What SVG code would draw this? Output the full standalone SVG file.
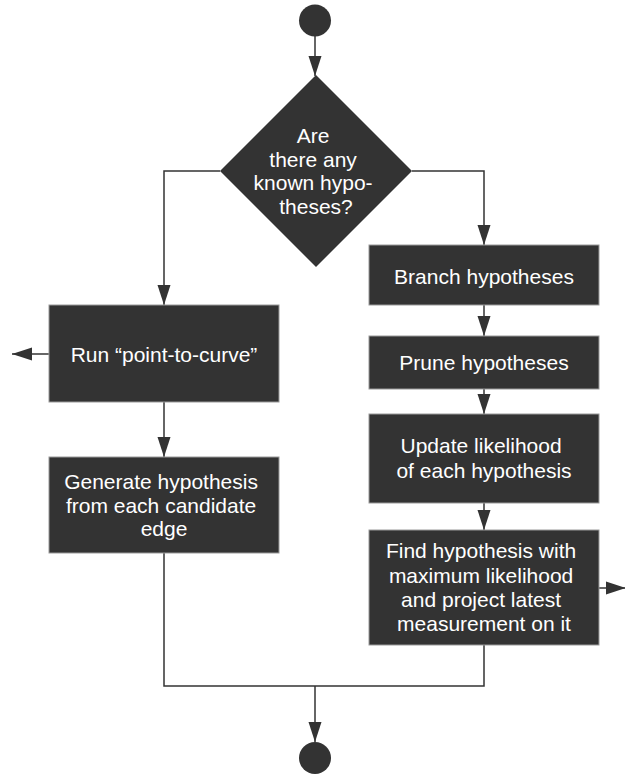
<svg xmlns="http://www.w3.org/2000/svg" width="625" height="776" viewBox="0 0 625 776">
  <style>
    .node { fill: #333333; stroke: #9a9a9a; stroke-width: 1; }
    .term { fill: #333333; }
    .label { fill: #ffffff; font-family: "Liberation Sans", Arial, sans-serif; font-size: 21px; text-anchor: middle; }
    .edge { fill: none; stroke: #333333; stroke-width: 1.5; }
  </style>
  <defs>
    <marker id="arrow" markerUnits="userSpaceOnUse" markerWidth="20" markerHeight="14" refX="20" refY="7" orient="auto">
      <path d="M0,0.5 L20,7 L0,13.5 z" fill="#333333"/>
    </marker>
  </defs>

  <rect width="625" height="776" fill="#ffffff"/>

  <g id="connectors">
    <path class="edge" d="M315,36 V76" marker-end="url(#arrow)"/>
    <path class="edge" d="M220,171 H164 V305" marker-end="url(#arrow)"/>
    <path class="edge" d="M412,171 H484 V245" marker-end="url(#arrow)"/>
    <path class="edge" d="M49,354 H12" marker-end="url(#arrow)"/>
    <path class="edge" d="M164,402 V457" marker-end="url(#arrow)"/>
    <path class="edge" d="M484,305 V336" marker-end="url(#arrow)"/>
    <path class="edge" d="M484,389 V414" marker-end="url(#arrow)"/>
    <path class="edge" d="M484,503 V530" marker-end="url(#arrow)"/>
    <path class="edge" d="M599,588 H626" marker-end="url(#arrow)"/>
    <path class="edge" d="M164,553 V686 H484 V645"/>
    <path class="edge" d="M315,686 V742" marker-end="url(#arrow)"/>
  </g>

  <g id="start">
    <circle class="term" cx="315" cy="20.5" r="16"/>
  </g>

  <g id="decision">
    <polygon class="term" points="316,75 412,171 316,267 220,171"/>
    <text class="label">
      <tspan x="316" y="143">Are</tspan>
      <tspan x="316" y="167">there any</tspan>
      <tspan x="316" y="190">known hypo-</tspan>
      <tspan x="316" y="214">theses?</tspan>
    </text>
  </g>

  <g id="run-point-to-curve">
    <rect class="node" x="49" y="305" width="230" height="97"/>
    <text class="label" x="164" y="362">Run “point-to-curve”</text>
  </g>

  <g id="generate-hypothesis">
    <rect class="node" x="49" y="457" width="230" height="96"/>
    <text class="label">
      <tspan x="164" y="489">Generate hypothesis</tspan>
      <tspan x="164" y="513">from each candidate</tspan>
      <tspan x="164" y="536">edge</tspan>
    </text>
  </g>

  <g id="branch-hypotheses">
    <rect class="node" x="369" y="245" width="230" height="60"/>
    <text class="label" x="484" y="283.5">Branch hypotheses</text>
  </g>

  <g id="prune-hypotheses">
    <rect class="node" x="369" y="336" width="230" height="53"/>
    <text class="label" x="484" y="370">Prune hypotheses</text>
  </g>

  <g id="update-likelihood">
    <rect class="node" x="369" y="414" width="230" height="89"/>
    <text class="label">
      <tspan x="484" y="453">Update likelihood</tspan>
      <tspan x="484" y="478">of each hypothesis</tspan>
    </text>
  </g>

  <g id="find-max-likelihood">
    <rect class="node" x="369" y="530" width="230" height="115"/>
    <text class="label">
      <tspan x="484" y="558">Find hypothesis with</tspan>
      <tspan x="484" y="583">maximum likelihood</tspan>
      <tspan x="484" y="607">and project latest</tspan>
      <tspan x="484" y="631">measurement on it</tspan>
    </text>
  </g>

  <g id="end">
    <circle class="term" cx="315" cy="758" r="16"/>
  </g>
</svg>
